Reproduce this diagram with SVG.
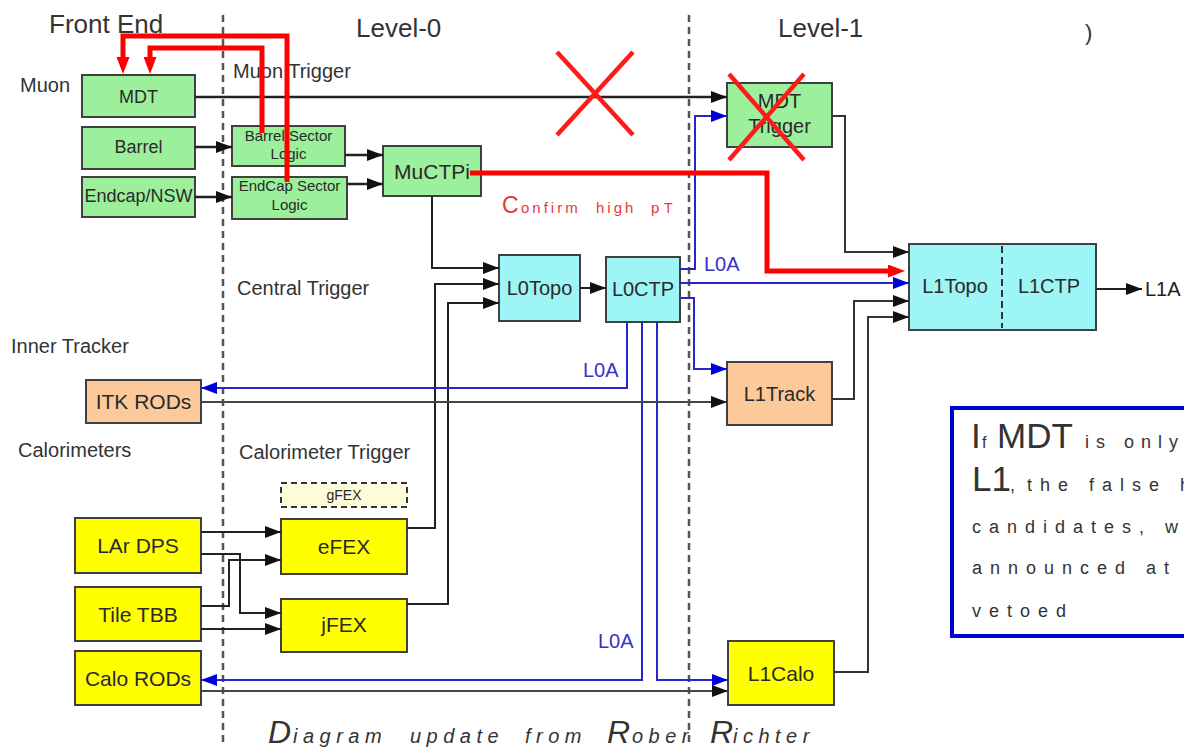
<svg xmlns="http://www.w3.org/2000/svg" width="1184" height="748" viewBox="0 0 1184 748">
<style>
text{font-family:"Liberation Sans",Arial,sans-serif;fill:#2a2a2a}
.n{font-size:21px;text-anchor:middle}
.n20{font-size:20px;text-anchor:middle}
.n18{font-size:18px;text-anchor:middle}
.n15{font-size:15px;text-anchor:middle}
.h{font-size:20px;fill:#333}
.big{font-size:26px;fill:#333}
.l0a{font-size:20px;fill:#3434c8}
.bx{stroke:#404040;stroke-width:2}
.g{fill:#9cf09c}
.c{fill:#9ef5f5}
.o{fill:#fbc99a}
.y{fill:#ffff00}
.k{fill:none;stroke:#222;stroke-width:2}
.b{fill:none;stroke:#2626cc;stroke-width:2}
.r{fill:none;stroke:#ff0000;stroke-width:5}
.x{stroke:#ff1a1a;stroke-width:4.5}
.dv{stroke:#555;stroke-width:2.5;stroke-dasharray:7 5}
.red{fill:#e83838}
.note{fill:#333}
.sm{font-size:18px;letter-spacing:8px}
.it{font-style:italic;fill:#333}
.its{font-size:20px;letter-spacing:5.5px}
.itb{font-size:32px}
.cs{font-size:15px;letter-spacing:3px}
</style>
<defs>
<marker id="ak" viewBox="0 0 16 12" refX="16" refY="6" markerWidth="16" markerHeight="12" orient="auto" markerUnits="userSpaceOnUse"><path d="M0,0 L16,6 L0,12 z" fill="#111"/></marker>
<marker id="ab" viewBox="0 0 16 12" refX="16" refY="6" markerWidth="16" markerHeight="12" orient="auto" markerUnits="userSpaceOnUse"><path d="M0,0 L16,6 L0,12 z" fill="#0000dd"/></marker>
<marker id="ar" viewBox="0 0 17 13" refX="7" refY="6.5" markerWidth="17" markerHeight="13" orient="auto" markerUnits="userSpaceOnUse"><path d="M0,0 L17,6.5 L0,13 z" fill="#ff0000"/></marker>
</defs>
<rect width="1184" height="748" fill="#fff"/>

<g id="dividers">
<line class="dv" x1="223" y1="15" x2="223" y2="745"/>
<line class="dv" x1="689" y1="15" x2="689" y2="745"/>
</g>

<g id="labels">
<text class="big" x="49" y="33">Front End</text>
<text class="big" x="356" y="37">Level-0</text>
<text class="big" x="778" y="37">Level-1</text>
<text class="big" x="1085" y="40" style="font-size:22px">)</text>
<text class="h" x="20" y="92">Muon</text>
<text class="h" x="233" y="78">Muon Trigger</text>
<text class="h" x="237" y="295">Central Trigger</text>
<text class="h" x="11" y="353">Inner Tracker</text>
<text class="h" x="18" y="457">Calorimeters</text>
<text class="h" x="239" y="459">Calorimeter Trigger</text>
<text class="l0a" x="704" y="271">L0A</text>
<text class="l0a" x="583" y="377">L0A</text>
<text class="l0a" x="598" y="648">L0A</text>
<text class="h" x="1145" y="296" style="fill:#222">L1A</text>
<text class="red" y="213"><tspan x="502" style="font-size:23px">C</tspan><tspan x="521" class="cs">onfirm</tspan><tspan x="596" class="cs">high</tspan><tspan x="651" style="font-size:15px">p</tspan><tspan x="664" style="font-size:14px">T</tspan></text>
<text class="it" y="743"><tspan x="268" class="itb">D</tspan><tspan x="293" class="its">iagram</tspan><tspan x="410" class="its">update</tspan><tspan x="525" class="its">from</tspan><tspan x="607" class="itb">R</tspan><tspan x="632" class="its">ober</tspan><tspan x="710" class="itb">R</tspan><tspan x="733" class="its">ichter</tspan></text>
</g>

<g id="node-mdt"><rect class="bx g" x="82" y="75" width="113" height="42"/><text class="n18" x="138.5" y="103">MDT</text></g>
<g id="node-barrel"><rect class="bx g" x="82" y="127" width="113" height="42"/><text class="n18" x="138.5" y="153">Barrel</text></g>
<g id="node-endcap"><rect class="bx g" x="82" y="177" width="113" height="40"/><text class="n18" x="138.5" y="202">Endcap/NSW</text></g>
<g id="node-barrel-sl"><rect class="bx g" x="232" y="126" width="113" height="40"/><text class="n15" x="288.5" y="141">Barrel Sector</text><text class="n15" x="288.5" y="159">Logic</text></g>
<g id="node-endcap-sl"><rect class="bx g" x="232" y="177" width="115" height="42"/><text class="n15" x="289.5" y="191">EndCap Sector</text><text class="n15" x="289.5" y="210">Logic</text></g>
<g id="node-muctpi"><rect class="bx g" x="383" y="146" width="98" height="50"/><text class="n" x="432" y="179">MuCTPi</text></g>
<g id="node-mdt-trigger"><rect class="bx g" x="727" y="83" width="105" height="64"/><text class="n20" x="779.5" y="108">MDT</text><text class="n20" x="779.5" y="133">Trigger</text></g>
<g id="node-l0topo"><rect class="bx c" x="499" y="255" width="81" height="66"/><text class="n20" x="539.5" y="295">L0Topo</text></g>
<g id="node-l0ctp"><rect class="bx c" x="606" y="257" width="74" height="65"/><text class="n20" x="643" y="296">L0CTP</text></g>
<g id="node-l1track"><rect class="bx o" x="727" y="362" width="105" height="63"/><text class="n20" x="779.5" y="401">L1Track</text></g>
<g id="node-l1topo-ctp"><rect class="bx c" x="909" y="244" width="187" height="86"/><line x1="1002" y1="246" x2="1002" y2="328" stroke="#333" stroke-width="2" stroke-dasharray="7 4"/><text class="n20" x="955" y="293">L1Topo</text><text class="n20" x="1049" y="293">L1CTP</text></g>
<g id="node-itk"><rect class="bx o" x="86" y="380" width="115" height="43"/><text class="n" x="143.5" y="409">ITK RODs</text></g>
<g id="node-lar"><rect class="bx y" x="75" y="518" width="126" height="55"/><text class="n" x="138" y="553">LAr DPS</text></g>
<g id="node-tile"><rect class="bx y" x="75" y="587" width="126" height="54"/><text class="n" x="138" y="622">Tile TBB</text></g>
<g id="node-calo-rods"><rect class="bx y" x="75" y="651" width="126" height="54"/><text class="n" x="138" y="686">Calo RODs</text></g>
<g id="node-gfex"><rect x="281" y="483" width="126" height="24" fill="#fdfbd8" stroke="#333" stroke-width="2" stroke-dasharray="6 4"/><text class="n15" x="344" y="500" style="font-size:14px">gFEX</text></g>
<g id="node-efex"><rect class="bx y" x="281" y="519" width="126" height="55"/><text class="n" x="344" y="554">eFEX</text></g>
<g id="node-jfex"><rect class="bx y" x="281" y="599" width="126" height="53"/><text class="n" x="344" y="632">jFEX</text></g>
<g id="node-l1calo"><rect class="bx y" x="728" y="641" width="106" height="64"/><text class="n" x="781" y="681">L1Calo</text></g>

<g id="node-note">
<rect x="952" y="408" width="240" height="228" fill="#fff" stroke="#0000d0" stroke-width="4"/>
<text class="note" y="448"><tspan x="971" style="font-size:35px">I</tspan><tspan x="982" style="font-size:16px">f</tspan><tspan x="997" style="font-size:35px">MDT</tspan><tspan x="1085" class="sm" style="letter-spacing:7px">is only</tspan></text>
<text class="note" y="491"><tspan x="972" style="font-size:35px">L1</tspan><tspan x="1010" class="sm">,</tspan><tspan x="1027" class="sm">the false h</tspan></text>
<text class="note sm" x="972" y="533">candidates, w</text>
<text class="note sm" x="972" y="574">announced at</text>
<text class="note sm" x="972" y="617">vetoed</text>
</g>

<g id="connectors">
<path class="k" d="M195,97 H727" marker-end="url(#ak)" style="stroke-width:2.5"/>
<path class="k" d="M195,147 H232" marker-end="url(#ak)" style="stroke-width:2.5"/>
<path class="k" d="M195,197 H232" marker-end="url(#ak)" style="stroke-width:2.5"/>
<path class="k" d="M345,155 H383" marker-end="url(#ak)" style="stroke-width:2.5"/>
<path class="k" d="M347,184 H383" marker-end="url(#ak)" style="stroke-width:2.5"/>
<path class="k" d="M432,196 V268 H499" marker-end="url(#ak)"/>
<path class="k" d="M407,528 H435 V284 H499" marker-end="url(#ak)"/>
<path class="k" d="M407,604 H448 V303 H499" marker-end="url(#ak)"/>
<path class="k" d="M580,288 H606" marker-end="url(#ak)"/>
<path class="b" d="M680,269 H695 V116 H727" marker-end="url(#ab)"/>
<path class="b" d="M680,283 H909" marker-end="url(#ab)"/>
<path class="b" d="M680,298 H694 V369 H727" marker-end="url(#ab)"/>
<path class="b" d="M627,322 V388 H201" marker-end="url(#ab)"/>
<path class="b" d="M642,322 V680 H201" marker-end="url(#ab)"/>
<path class="b" d="M657,322 V680 H728" marker-end="url(#ab)"/>
<path class="k" d="M201,402 H727" marker-end="url(#ak)" style="stroke:#444"/>
<path class="k" d="M201,691 H728" marker-end="url(#ak)" style="stroke:#444"/>
<path class="k" d="M201,532 H281" marker-end="url(#ak)"/>
<path class="k" d="M201,554 H240 V613 H281" marker-end="url(#ak)"/>
<path class="k" d="M201,606 H229 V560 H281" marker-end="url(#ak)"/>
<path class="k" d="M201,629 H281" marker-end="url(#ak)"/>
<path class="k" d="M832,116 H845 V252 H909" marker-end="url(#ak)" style="stroke:#333"/>
<path class="k" d="M832,399 H854 V301 H909" marker-end="url(#ak)" style="stroke:#333"/>
<path class="k" d="M834,672 H868 V317 H909" marker-end="url(#ak)" style="stroke:#333"/>
<path class="k" d="M1096,289 H1142" marker-end="url(#ak)"/>
<path class="r" d="M470,173 H767 V271 H895" marker-end="url(#ar)"/>
<path class="r" d="M287,182 V36 H123 V64" marker-end="url(#ar)"/>
<path class="r" d="M262,133 V48 H150 V64" marker-end="url(#ar)"/>
</g>

<g id="crosses">
<line class="x" x1="557" y1="52" x2="633" y2="135"/>
<line class="x" x1="633" y1="52" x2="557" y2="135"/>
<line class="x" x1="729" y1="74" x2="804" y2="160"/>
<line class="x" x1="804" y1="74" x2="729" y2="160"/>
</g>
</svg>
